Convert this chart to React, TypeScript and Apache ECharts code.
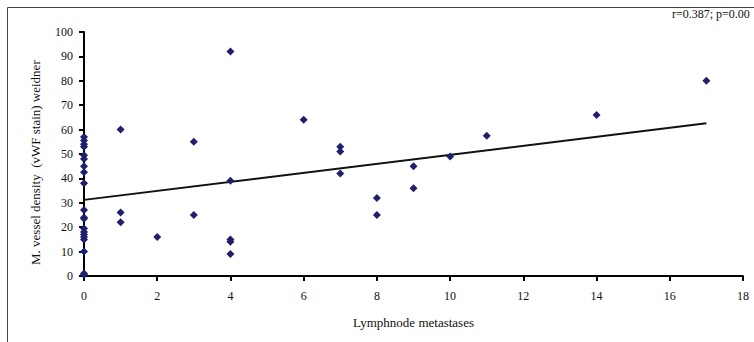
import React, { useEffect, useRef } from "react";
import * as echarts from "echarts";

const lymphNodes = [
  0, 0, 0, 0, 0, 0, 0, 0, 0, 0, 0, 0, 0, 0, 0, 0, 0, 0, 0, 0,
  1, 1, 1, 2, 3, 3, 4, 4, 4, 4, 4, 6, 7, 7, 7, 8, 8, 9, 9, 10, 11, 14, 17,
];
const vesselDensity = [
  57, 55.5, 54, 53, 49.5, 48, 45, 42.5, 38, 27, 24, 23.5, 19.5, 18, 17, 16, 15, 10, 1, 0.5,
  60, 26, 22, 16, 55, 25, 92, 39, 15, 14, 9, 64, 53, 51, 42, 32, 25, 45, 36, 49, 57.5, 66, 80,
];
const trendX = [0, 17];
const trendY = [31.2, 62.6];
const xTicks = { min: 0, max: 18, interval: 2 };
const yTicks = { min: 0, max: 100, interval: 10 };
const xTitle = "Lymphnode metastases";
const yTitle = "M. vessel density  (vWF stain) weidner";
const statText = "r=0.387; p=0.00";

const FONT = "'Liberation Serif', 'Times New Roman', serif";

export default function App() {
  const ref = useRef<HTMLDivElement>(null);
  useEffect(() => {
    document.body.style.margin = "0";
    const chart = echarts.init(ref.current!, null, { renderer: "svg" });
    const points = lymphNodes.map((x, i) => [x, vesselDensity[i]]);
    const trend = trendX.map((x, i) => [x, trendY[i]]);
    chart.setOption({
      animation: false,
      backgroundColor: "#ffffff",
      textStyle: { fontFamily: FONT },
      grid: { left: 84, top: 32, right: 11, bottom: 66 },
      graphic: [
        {
          type: "rect",
          shape: { x: 7.5, y: 7.5, width: 800, height: 400 },
          style: { fill: "none", stroke: "#444", lineWidth: 1 },
          z: 0,
        },
        {
          type: "text",
          x: 672,
          y: 8,
          style: {
            text: statText,
            fontFamily: FONT,
            fontSize: 12,
            fill: "#111",
          },
        },
        {
          type: "text",
          x: 35,
          y: 265,
          rotation: Math.PI / 2,
          style: {
            text: yTitle,
            fontFamily: FONT,
            fontSize: 13,
            fill: "#111",
            align: "left",
            verticalAlign: "middle",
          },
        },
      ],
      xAxis: {
        type: "value",
        min: xTicks.min,
        max: xTicks.max,
        interval: xTicks.interval,
        name: xTitle,
        nameLocation: "middle",
        nameGap: 40,
        nameTextStyle: { fontFamily: FONT, fontSize: 13, color: "#111" },
        splitLine: { show: false },
        axisLine: { onZero: false, lineStyle: { color: "#000", width: 2 } },
        axisTick: { show: true, length: 5, lineStyle: { color: "#000", width: 2 } },
        axisLabel: { fontFamily: FONT, fontSize: 12, color: "#111", margin: 14 },
      },
      yAxis: {
        type: "value",
        min: yTicks.min,
        max: yTicks.max,
        interval: yTicks.interval,
        splitLine: { show: false },
        axisLine: { onZero: false, lineStyle: { color: "#000", width: 2 } },
        axisTick: { show: true, length: 5, lineStyle: { color: "#000", width: 2 } },
        axisLabel: { fontFamily: FONT, fontSize: 12, color: "#111", margin: 11 },
      },
      series: [
        {
          type: "line",
          data: trend,
          symbol: "none",
          lineStyle: { color: "#111", width: 2 },
          z: 2,
        },
        {
          type: "scatter",
          data: points,
          symbol: "diamond",
          symbolSize: 8,
          itemStyle: { color: "#1f1f6e", opacity: 1 },
          z: 3,
        },
      ],
    });
    return () => chart.dispose();
  }, []);
  return <div ref={ref} style={{ width: 754, height: 342 }} />;
}
